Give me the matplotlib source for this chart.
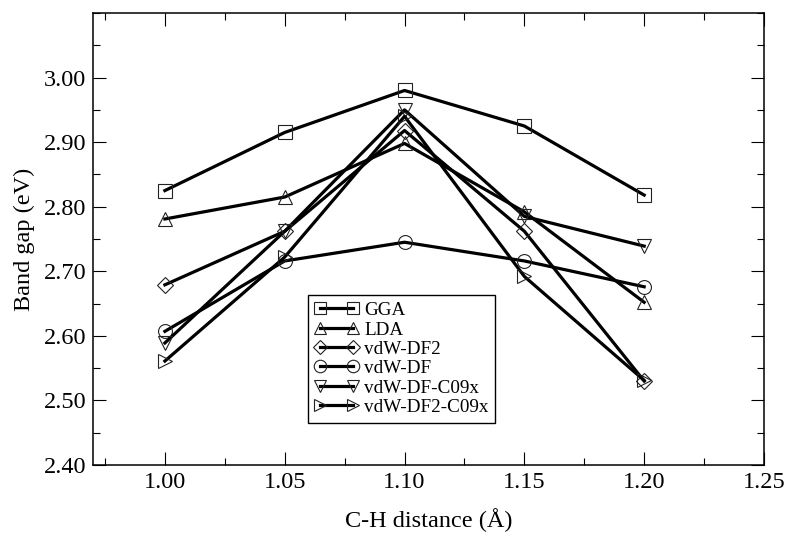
import matplotlib
matplotlib.use("Agg")
import matplotlib.pyplot as plt
from matplotlib.ticker import MultipleLocator, FormatStrFormatter, FixedLocator

plt.rcParams['font.family'] = ['Liberation Serif', 'DejaVu Serif']

distance = [1.00, 1.05, 1.10, 1.15, 1.20]
gga = [2.825, 2.915, 2.980, 2.925, 2.818]
lda = [2.781, 2.815, 2.898, 2.792, 2.652]
vdw_df2 = [2.679, 2.762, 2.918, 2.762, 2.530]
vdw_df = [2.607, 2.716, 2.745, 2.716, 2.676]
vdw_df_c09x = [2.589, 2.762, 2.950, 2.785, 2.739]
vdw_df2_c09x = [2.561, 2.722, 2.940, 2.692, 2.531]

xticks = [1.00, 1.05, 1.10, 1.15, 1.20, 1.25]
yticks = [2.40, 2.50, 2.60, 2.70, 2.80, 2.90, 3.00]

labels = ['GGA', 'LDA', 'vdW-DF2', 'vdW-DF', 'vdW-DF-C09x', 'vdW-DF2-C09x']
series = [gga, lda, vdw_df2, vdw_df, vdw_df_c09x, vdw_df2_c09x]
markers = ['s', '^', 'D', 'o', 'v', '>']
msizes = [10, 10, 8, 10, 10, 10]

fig = plt.figure(figsize=(7.89, 5.42), dpi=100)
ax = fig.add_axes([93/789, 77/542, 671/789, 452/542])

for y, lab, m, ms in zip(series, labels, markers, msizes):
    ax.plot(distance, y, color='black', lw=2.3, marker=m, markersize=ms,
            markerfacecolor='none', markeredgecolor='#222222', markeredgewidth=0.8,
            label=lab)

ax.set_xlim(0.97, 1.25)
ax.set_ylim(2.40, 3.10)
ax.xaxis.set_major_locator(FixedLocator(xticks))
ax.xaxis.set_minor_locator(MultipleLocator(0.025))
ax.yaxis.set_major_locator(FixedLocator(yticks))
ax.yaxis.set_minor_locator(MultipleLocator(0.05))
ax.xaxis.set_major_formatter(FormatStrFormatter('%.2f'))
ax.yaxis.set_major_formatter(FormatStrFormatter('%.2f'))

ax.tick_params(which='both', direction='in', top=True, right=True, width=0.8)
ax.tick_params(which='major', length=9.5, labelsize=17.5, pad=5)
ax.tick_params(which='minor', length=5)
for s in ax.spines.values():
    s.set_linewidth(1.1)

ax.set_xlabel('C-H distance (Å)', fontsize=17.5, labelpad=11)
ax.set_ylabel('Band gap (eV)', fontsize=17.5, labelpad=6)

leg = ax.legend(loc='upper left', bbox_to_anchor=(0.320, 0.376), borderaxespad=0,
                numpoints=2, handlelength=2.3, handletextpad=0.3, labelspacing=0.1,
                borderpad=0.35, fontsize=13.8, fancybox=False, framealpha=1,
                edgecolor='black', markerscale=0.9)
leg.get_frame().set_linewidth(1.0)

fig.savefig('out.png', dpi=100)
